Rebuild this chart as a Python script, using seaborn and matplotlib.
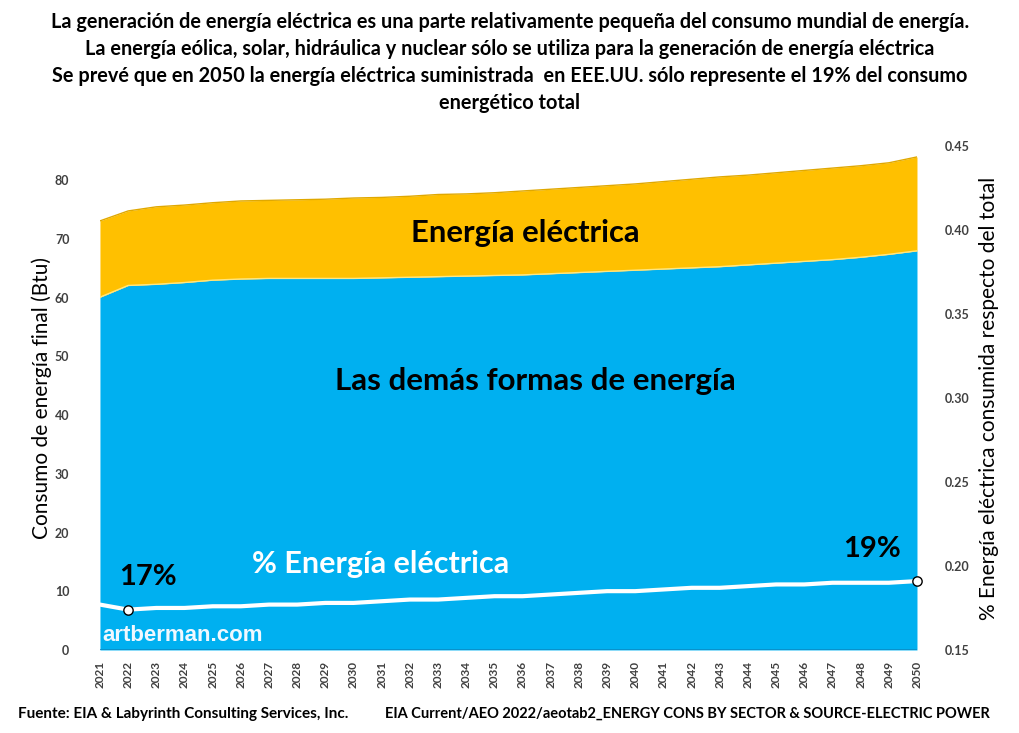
import matplotlib
matplotlib.use("Agg")
import matplotlib.pyplot as plt
import seaborn as sns
import pandas as pd

years = list(range(2021, 2051))
# top of the blue area: all other forms of energy
otras = [60.1, 62.1, 62.3, 62.6, 63.0, 63.2, 63.3, 63.3, 63.3, 63.3,
         63.4, 63.5, 63.6, 63.7, 63.8, 63.9, 64.1, 64.3, 64.5, 64.7,
         64.9, 65.1, 65.3, 65.6, 65.9, 66.2, 66.5, 66.9, 67.4, 68.0]
# total (top of the orange area)
total = [73.1, 74.8, 75.5, 75.8, 76.2, 76.5, 76.6, 76.7, 76.8, 77.0,
         77.1, 77.3, 77.6, 77.7, 77.9, 78.2, 78.5, 78.8, 79.1, 79.4,
         79.8, 80.2, 80.6, 80.9, 81.3, 81.7, 82.1, 82.5, 83.0, 84.0]
pct_elec = [0.177, 0.174, 0.175, 0.175, 0.176, 0.176, 0.177, 0.177, 0.178, 0.178,
            0.179, 0.180, 0.180, 0.181, 0.182, 0.182, 0.183, 0.184, 0.185, 0.185,
            0.186, 0.187, 0.187, 0.188, 0.189, 0.189, 0.190, 0.190, 0.190, 0.191]
left_ticks = [0, 10, 20, 30, 40, 50, 60, 70, 80]
right_ticks = [0.15, 0.20, 0.25, 0.30, 0.35, 0.40, 0.45]

df = pd.DataFrame({"year": years, "otras": otras, "total": total, "pct": pct_elec})

sns.set_theme(style="white")
plt.rcParams["font.family"] = ["Lato", "DejaVu Sans"]
plt.rcParams["text.color"] = "black"
plt.rcParams["axes.labelcolor"] = "black"

BLUE = "#00B0F0"
ORANGE = "#FFC000"

fig = plt.figure(figsize=(10.2, 7.33), dpi=100)
ax = fig.add_axes([0.098, 0.1133, 0.801, 0.6875])
ax.fill_between(df["year"], 0, df["otras"], color=BLUE, lw=0)
ax.fill_between(df["year"], df["otras"], df["total"], color=ORANGE, lw=0)
ax.plot(df["year"], df["total"], color="#E0A800", lw=1)
ax.plot(df["year"], df["otras"], color="#FFE680", lw=1)
ax.plot(df["year"], [0] * len(years), color="#0A8FC8", lw=2)
ax.set_xlim(2021, 2050)
ax.set_ylim(0, 85.86)
ax.set_yticks(left_ticks)
ax.set_yticklabels([str(t) for t in left_ticks], fontsize=9, color="#404040", fontweight="bold")
ax.set_xticks(years)
ax.set_xticklabels([str(y) for y in years], rotation=90, fontsize=8.5, color="#404040", fontweight="bold")
ax.tick_params(axis="x", length=4, color="#BFBFBF", pad=4)
ax.tick_params(axis="y", length=0, pad=22)
for s in ax.spines.values():
    s.set_visible(False)
ax.set_ylabel("Consumo de energía final (Btu)", fontsize=15, labelpad=2)

ax2 = ax.twinx()
sns.lineplot(data=df, x="year", y="pct", ax=ax2, color="white", lw=3, zorder=5)
ends = df[df["year"].isin([2022, 2050])]
ax2.scatter(ends["year"], ends["pct"], s=45, color="white", edgecolor="black", lw=1, zorder=6, clip_on=False)
ax2.set_ylim(0.15, 0.45)
ax2.set_yticks(right_ticks)
ax2.set_yticklabels([f"{t:.2f}" for t in right_ticks], fontsize=9, color="#404040", fontweight="bold")
ax2.tick_params(axis="y", length=0, pad=20)
for s in ax2.spines.values():
    s.set_visible(False)
ax2.set_xlabel("")
ax2.set_ylabel("% Energía eléctrica consumida respecto del total", fontsize=15, labelpad=7)
ax2.set_xlim(2021, 2050)

# in-chart labels
ax.text(2036.1, 71.1, "Energía eléctrica", fontsize=22.3, fontweight="bold", ha="center", va="center")
ax.text(2036.45, 45.9, "Las demás formas de energía", fontsize=22.5, fontweight="bold", ha="center", va="center")
ax.text(2030.95, 14.6, "% Energía eléctrica", fontsize=22, fontweight="bold", color="white", ha="center", va="center")
ax.text(2022.7, 12.5, "17%", fontsize=21, fontweight="bold", ha="center", va="center")
ax.text(2048.4, 17.2, "19%", fontsize=21, fontweight="bold", ha="center", va="center")
ax.text(2021.1, 2.4, "artberman.com", fontsize=16, fontweight="bold", color="#F0F8FF",
        family=["Liberation Sans", "DejaVu Sans"], ha="left", va="center")

title = ["La generación de energía eléctrica es una parte relativamente pequeña del consumo mundial de energía.",
         "La energía eólica, solar, hidráulica y nuclear sólo se utiliza para la generación de energía eléctrica",
         "Se prevé que en 2050 la energía eléctrica suministrada  en EEE.UU. sólo represente el 19% del consumo",
         "energético total"]
for i, line in enumerate(title):
    fig.text(0.5, 1 - (22 + i * 27) / 733, line, fontsize=14.3, fontweight="bold", ha="center", va="center")

fig.text(18 / 1020, 1 - 714 / 733, "Fuente: EIA & Labyrinth Consulting Services, Inc.", fontsize=11,
         fontweight="bold", ha="left", va="center")
fig.text(990 / 1020, 1 - 714 / 733, "EIA Current/AEO 2022/aeotab2_ENERGY CONS BY SECTOR & SOURCE-ELECTRIC POWER",
         fontsize=10.5, fontweight="bold", ha="right", va="center")

fig.savefig("out.png", dpi=100)
